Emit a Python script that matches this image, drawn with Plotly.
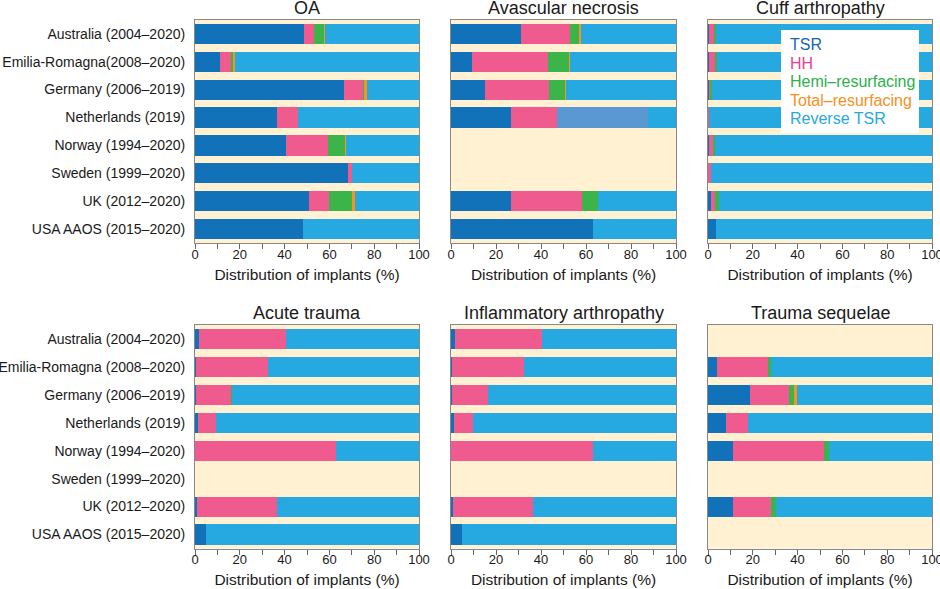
import plotly.graph_objects as go

# ---------------- data ----------------
CATS_TOP = ["Australia (2004–2020)", "Emilia-Romagna(2008–2020)", "Germany (2006–2019)",
            "Netherlands (2019)", "Norway (1994–2020)", "Sweden (1999–2020)",
            "UK (2012–2020)", "USA AAOS (2015–2020)"]
CATS_BOTTOM = ["Australia (2004–2020)", "Emilia-Romagna (2008–2020)", "Germany (2006–2019)",
               "Netherlands (2019)", "Norway (1994–2020)", "Sweden (1999–2020)",
               "UK (2012–2020)", "USA AAOS (2015–2020)"]

SERIES = ["TSR", "HH", "Hemi–resurfacing", "Total–resurfacing", "Other", "Reverse TSR"]

# OA
OA_TSR = [48.6, 11.0, 66.7, 36.6, 40.6, 68.3, 50.7, 48.2]
OA_HH = [4.5, 5.0, 8.6, 9.2, 18.8, 1.8, 9.3, 0]
OA_HEMI = [4.5, 1.2, 0.5, 0, 7.7, 0, 9.9, 0]
OA_TOTAL = [0.6, 0.5, 0.8, 0, 0.4, 0, 1.7, 0]
OA_OTHER = [0, 0, 0, 0, 0, 0, 0, 0]
OA_REV = [41.8, 82.3, 23.4, 54.2, 32.5, 29.9, 28.4, 51.8]

# Avascular necrosis
AVN_TSR = [31.0, 9.3, 15.1, 26.6, None, None, 26.7, 62.9]
AVN_HH = [22.1, 33.6, 28.4, 20.7, None, None, 31.3, 0]
AVN_HEMI = [4.0, 9.6, 7.2, 0, None, None, 7.4, 0]
AVN_TOTAL = [0.6, 0.3, 0.6, 0, None, None, 0, 0]
AVN_OTHER = [0, 0, 0, 40.1, None, None, 0, 0]
AVN_REV = [42.3, 47.2, 48.7, 12.6, None, None, 34.6, 37.1]

# Cuff arthropathy
CUFF_TSR = [0.4, 0.5, 0.3, 0.2, 0.4, 0.2, 1.5, 3.7]
CUFF_HH = [2.3, 2.8, 1.0, 0.3, 2.0, 1.3, 1.8, 0]
CUFF_HEMI = [0.8, 0.5, 0.6, 0, 0.9, 0, 1.5, 0]
CUFF_TOTAL = [0, 0, 0, 0, 0, 0, 0, 0]
CUFF_OTHER = [0, 0, 0, 0, 0, 0, 0, 0]
CUFF_REV = [96.5, 96.2, 98.1, 99.5, 96.7, 98.5, 95.2, 96.3]

# Acute trauma
AT_TSR = [1.8, 0.3, 0.3, 1.3, 0.2, None, 1.0, 4.8]
AT_HH = [38.7, 32.1, 15.8, 8.1, 62.7, None, 35.5, 0]
AT_HEMI = [0, 0, 0.3, 0, 0, None, 0, 0]
AT_TOTAL = [0, 0, 0, 0, 0, None, 0, 0]
AT_OTHER = [0, 0, 0, 0, 0, None, 0, 0]
AT_REV = [59.5, 67.6, 83.6, 90.6, 37.1, None, 63.5, 95.2]

# Inflammatory arthropathy
IA_TSR = [1.8, 0.3, 0.5, 1.5, 0.2, None, 1.1, 4.9]
IA_HH = [38.7, 32.2, 15.8, 8.3, 63.0, None, 35.4, 0]
IA_HEMI = [0, 0, 0, 0, 0, None, 0, 0]
IA_TOTAL = [0, 0, 0, 0, 0, None, 0, 0]
IA_OTHER = [0, 0, 0, 0, 0, None, 0, 0]
IA_REV = [59.5, 67.5, 83.7, 90.2, 36.8, None, 63.5, 95.1]

# Trauma sequelae
TS_TSR = [None, 4.0, 18.7, 8.2, 11.1, None, 11.3, None]
TS_HH = [None, 23.0, 17.5, 9.6, 40.7, None, 16.8, None]
TS_HEMI = [None, 1.3, 2.2, 0, 2.4, None, 2.3, None]
TS_TOTAL = [None, 0, 1.2, 0, 0, None, 0, None]
TS_OTHER = [None, 0, 0, 0, 0, None, 0, None]
TS_REV = [None, 71.7, 60.4, 82.2, 45.8, None, 69.6, None]

TICK_VALS = [0, 20, 40, 60, 80, 100]
TICK_TEXT = ["0", "20", "40", "60", "80", "100"]
X_TITLE = "Distribution of implants (%)"

LEGEND_LABELS = ["TSR", "HH", "Hemi–resurfacing", "Total–resurfacing", "Reverse TSR"]

# ---------------- styling ----------------
BAR_COLORS = ["#1172BA", "#EF5B8E", "#3BB44A", "#F7941E", "#5A98D3", "#25A9E0"]
LEGEND_COLORS = ["#1566B0", "#EC3F8C", "#2DB04A", "#F7901E", "#27A8E0"]
BG = "#FFF1D2"
FONT = "Liberation Sans, Arial, sans-serif"

W, H = 940, 589
XD = [(195, 419), (451, 676), (708, 932)]
YD = [(19.7, 243.3), (325, 548.5)]


def px_x(a):
    return a / W


def px_y(a):
    return 1 - a / H


panels = [
    ("OA", CATS_TOP, [OA_TSR, OA_HH, OA_HEMI, OA_TOTAL, OA_OTHER, OA_REV]),
    ("Avascular necrosis", CATS_TOP, [AVN_TSR, AVN_HH, AVN_HEMI, AVN_TOTAL, AVN_OTHER, AVN_REV]),
    ("Cuff arthropathy", CATS_TOP, [CUFF_TSR, CUFF_HH, CUFF_HEMI, CUFF_TOTAL, CUFF_OTHER, CUFF_REV]),
    ("Acute trauma", CATS_BOTTOM, [AT_TSR, AT_HH, AT_HEMI, AT_TOTAL, AT_OTHER, AT_REV]),
    ("Inflammatory arthropathy", CATS_BOTTOM, [IA_TSR, IA_HH, IA_HEMI, IA_TOTAL, IA_OTHER, IA_REV]),
    ("Trauma sequelae", CATS_BOTTOM, [TS_TSR, TS_HH, TS_HEMI, TS_TOTAL, TS_OTHER, TS_REV]),
]

fig = go.Figure()
layout = dict(
    width=W, height=H,
    margin=dict(l=0, r=0, t=0, b=0, autoexpand=False),
    paper_bgcolor="white",
    plot_bgcolor=BG,
    barmode="stack",
    showlegend=False,
    font=dict(family=FONT, color="#1a1a1a"),
)
annotations = []
shapes = []

for i, (title, cats, vals) in enumerate(panels):
    n = i + 1
    row, col = divmod(i, 3)
    xa = "x" if n == 1 else f"x{n}"
    ya = "y" if n == 1 else f"y{n}"
    for s, name in enumerate(SERIES):
        fig.add_trace(go.Bar(
            x=vals[s], y=cats, orientation="h", name=name,
            marker=dict(color=BAR_COLORS[s], line=dict(width=0)),
            width=0.72, xaxis=xa, yaxis=ya, showlegend=False,
        ))
    x0, x1 = XD[col]
    ytop, ybot = YD[row]
    layout["xaxis" if n == 1 else f"xaxis{n}"] = dict(
        domain=[px_x(x0), px_x(x1)], anchor=ya, range=[0, 100],
        tickvals=TICK_VALS, ticktext=TICK_TEXT,
        ticks="outside", ticklen=5, tickcolor="#666", tickwidth=1,
        minor=dict(dtick=10, tick0=0, ticks="outside", ticklen=5, tickcolor="#666", tickwidth=1),
        showgrid=False, zeroline=False,
        showline=True, mirror=True, linecolor="#888", linewidth=1,
        tickfont=dict(size=13, color="#1a1a1a"),
        ticklabelstandoff=-6, ticklabeloverflow="allow",
        title=dict(text=X_TITLE, font=dict(size=15.5, color="#1a1a1a"), standoff=8),
        automargin=False,
        fixedrange=True,
    )
    layout["yaxis" if n == 1 else f"yaxis{n}"] = dict(
        domain=[px_y(ybot), px_y(ytop)], anchor=xa,
        type="category", categoryorder="array", categoryarray=cats,
        autorange="reversed",
        showticklabels=(col == 0),
        ticks="", ticklabelstandoff=6, ticklabeloverflow="allow",
        showgrid=False, zeroline=False,
        showline=True, mirror=True, linecolor="#888", linewidth=1,
        tickfont=dict(size=14, color="#1a1a1a"),
        automargin=False,
        fixedrange=True,
    )
    annotations.append(dict(
        text=title, xref="paper", yref="paper",
        x=px_x((x0 + x1) / 2), y=px_y(ytop), xanchor="center", yanchor="bottom",
        yshift=0, showarrow=False, font=dict(size=18, color="#1a1a1a"),
    ))

# legend (text only, no swatches) in a white box
shapes.append(dict(type="rect", xref="paper", yref="paper",
                   x0=px_x(781), x1=px_x(919), y0=px_y(133), y1=px_y(30),
                   fillcolor="white", line=dict(width=0), layer="above"))
for k, (lab, colr) in enumerate(zip(LEGEND_LABELS, LEGEND_COLORS)):
    annotations.append(dict(
        text=lab, xref="paper", yref="paper",
        x=px_x(788), y=px_y(44.5 + k * 18.6), xanchor="left", yanchor="middle",
        showarrow=False, font=dict(size=16, color=colr),
    ))

layout["annotations"] = annotations
layout["shapes"] = shapes
fig.update_layout(**layout)
fig.write_html("out.html", config={"displayModeBar": False},
               post_script="document.body.style.margin='0';document.body.style.overflow='hidden';")
